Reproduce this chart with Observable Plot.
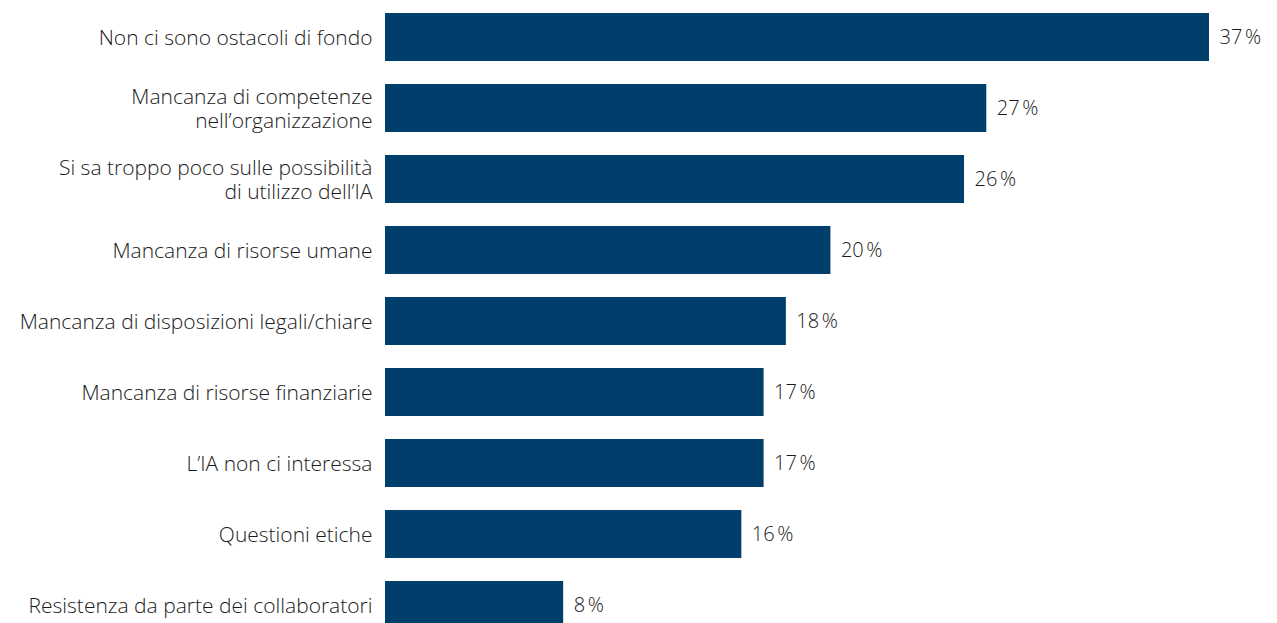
<!DOCTYPE html>
<html>
<head>
<meta charset="utf-8">
<script src="https://cdn.jsdelivr.net/npm/d3@7"></script>
<script src="https://cdn.jsdelivr.net/npm/@observablehq/plot@0.6"></script>
<style>
  html, body { margin: 0; padding: 0; background: #fff; overflow: hidden; }
  #chart { width: 1277px; height: 623px; overflow: hidden; }
</style>
</head>
<body>
<div id="chart"></div>
<script>
const categories = [
  "Non ci sono ostacoli di fondo",
  "Mancanza di competenze\nnell’organizzazione",
  "Si sa troppo poco sulle possibilità\ndi utilizzo dell’IA",
  "Mancanza di risorse umane",
  "Mancanza di disposizioni legali/chiare",
  "Mancanza di risorse finanziarie",
  "L’IA non ci interessa",
  "Questioni etiche",
  "Resistenza da parte dei collaboratori"
];
const values = [37, 27, 26, 20, 18, 17, 17, 16, 8];

const data = categories.map((c, i) => ({ category: c, value: values[i] }));

const chart = Plot.plot({
  width: 1277,
  height: 629,
  marginLeft: 385,
  marginRight: 68,
  marginTop: 13,
  marginBottom: 0,
  style: { fontFamily: "'Open Sans', sans-serif", fontSize: "21px", fontWeight: 300, color: "#1a1a1a", background: "#fff" },
  x: { domain: [0, 37], axis: null },
  y: { domain: categories, paddingInner: 0.33, paddingOuter: 0, label: null },
  marks: [
    Plot.barX(data, { x: "value", y: "category", fill: "#003e6b" }),
    Plot.text(data, {
      x: "value", y: "category",
      text: d => d.value + "\u202F%",
      textAnchor: "start", dx: 10, fill: "#1a1a1a", fontSize: 20
    }),
    Plot.axisY({ tickSize: 0, tickPadding: 13, fontSize: 21, lineHeight: 1.12, label: null, fill: "#1a1a1a" })
  ]
});
document.getElementById("chart").appendChild(chart);
</script>
</body>
</html>
